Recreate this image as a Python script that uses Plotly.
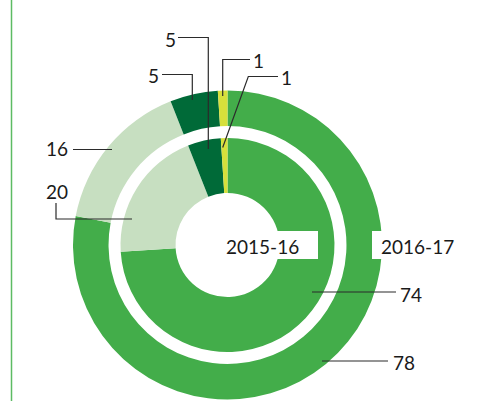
import plotly.graph_objects as go

W, H = 483, 401

categories = ["Main", "Light", "Dark", "Yellow"]
values_2016_17 = [78, 16, 5, 1]
values_2015_16 = [74, 20, 5, 1]
colors = ["#43AD4A", "#C7DFC1", "#006A38", "#D6E03B"]
year_labels = ["2015-16", "2016-17"]


def px(x):
    return x / W


def py(y):
    return 1 - y / H


fig = go.Figure()

# Outer ring 2016-17: centre (227.5, 245), radius 154.5
fig.add_trace(go.Pie(
    labels=categories, values=values_2016_17, sort=False, direction="clockwise",
    rotation=0, hole=0.770, textinfo="none", hoverinfo="label+value",
    marker=dict(colors=colors, line=dict(width=0)),
    domain=dict(x=[px(73), px(382)], y=[py(399.5), py(90.5)]),
    showlegend=False,
))
# Inner ring 2015-16: radius 107
fig.add_trace(go.Pie(
    labels=categories, values=values_2015_16, sort=False, direction="clockwise",
    rotation=0, hole=0.486, textinfo="none", hoverinfo="label+value",
    marker=dict(colors=colors, line=dict(width=0)),
    domain=dict(x=[px(120.5), px(334.5)], y=[py(352), py(138)]),
    showlegend=False,
))

shapes = []
# left vertical rule
shapes.append(dict(type="line", xref="paper", yref="paper", x0=px(11.5), x1=px(11.5),
                   y0=0, y1=1, line=dict(color="#5DBB63", width=1.5)))
# white boxes behind year labels
shapes.append(dict(type="rect", xref="paper", yref="paper", x0=px(215), x1=px(318),
                   y0=py(259), y1=py(231), fillcolor="white", line=dict(width=0)))
shapes.append(dict(type="rect", xref="paper", yref="paper", x0=px(372), x1=px(456),
                   y0=py(259), y1=py(231), fillcolor="white", line=dict(width=0)))

LC = "#2b2b2b"
leaders = [
    [(322, 361), (388, 361)],                 # 78
    [(312, 292), (396, 292)],                 # 74
    [(132, 219), (56, 219), (56, 203)],       # 20
    [(112, 149.5), (73, 149.5)],              # 16
    [(192.3, 100), (192.3, 74.5), (162, 74.5)],   # 5 outer
    [(208.3, 149), (208.3, 37.5), (178, 37.5)],   # 5 inner
    [(222.7, 96), (222.7, 59.5), (250, 59.5)],    # 1 outer
    [(222.7, 147.5), (248.3, 76.5), (278, 76.5)],  # 1 inner
]
for pts in leaders:
    path = "M " + " L ".join(f"{px(x):.5f},{py(y):.5f}" for x, y in pts)
    shapes.append(dict(type="path", xref="paper", yref="paper", path=path,
                       line=dict(color=LC, width=1.2)))

FONT = dict(family="Lato, 'Open Sans', sans-serif", size=19, color="#1a1a1a")
annotations = []


def label(text, x, y, xanchor):
    annotations.append(dict(text=text, x=px(x), y=py(y), xref="paper", yref="paper",
                            xanchor=xanchor, yanchor="middle", showarrow=False,
                            font=FONT))


label(str(values_2016_17[0]), 391, 362, "left")
label(str(values_2015_16[0]), 398, 294, "left")
label(str(values_2015_16[1]), 57, 192, "center")
label(str(values_2016_17[1]), 70, 148, "right")
label(str(values_2016_17[2]), 161, 76, "right")
label(str(values_2015_16[2]), 177.5, 39, "right")
label(str(values_2016_17[3]), 250.5, 60, "left")
label(str(values_2015_16[3]), 279, 77, "left")
label(year_labels[0], 262.5, 246, "center")
label(year_labels[1], 417.5, 246, "center")

fig.update_layout(
    width=W, height=H, margin=dict(l=0, r=0, t=0, b=0),
    paper_bgcolor="white", plot_bgcolor="white",
    shapes=shapes, annotations=annotations, showlegend=False,
)

fig.write_html("out.html")
